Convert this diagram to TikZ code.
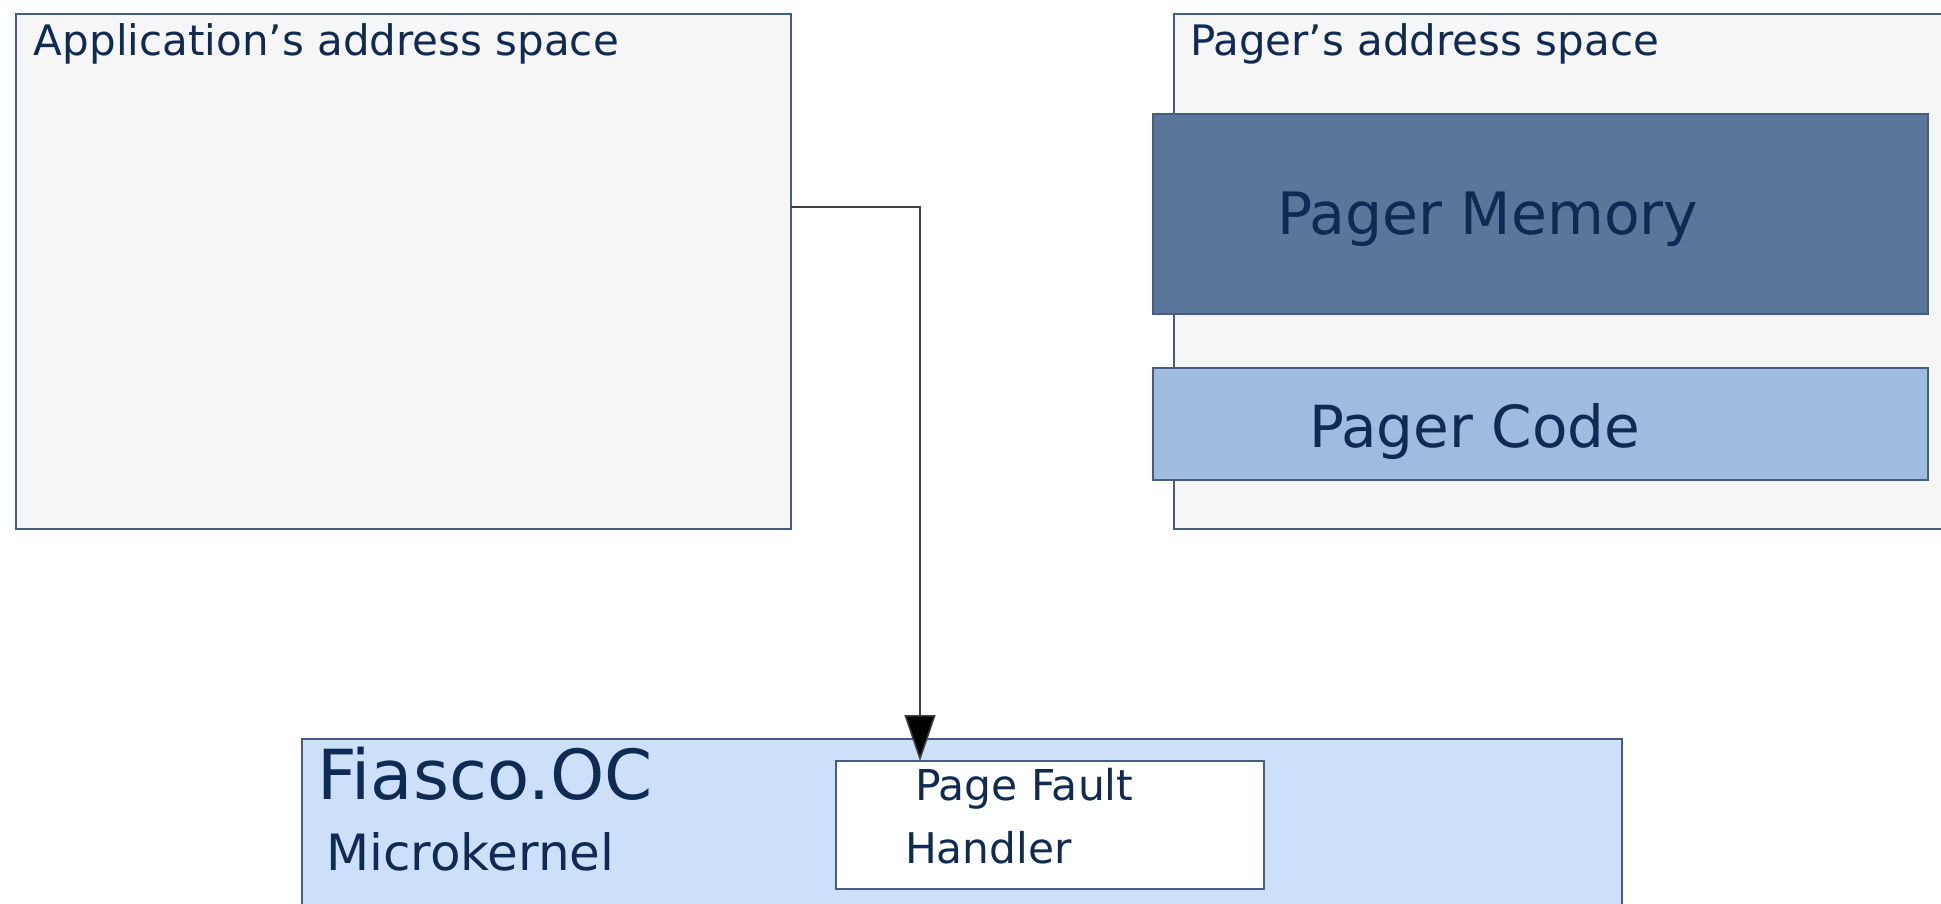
\documentclass[tikz,border=0pt]{standalone}
\usepackage{fontspec}
\setmainfont{DejaVu Sans}
\usetikzlibrary{arrows.meta}
\definecolor{txt}{RGB}{15,43,83}
\definecolor{edge}{RGB}{70,92,128}
\definecolor{appfill}{RGB}{246,246,246}
\definecolor{memfill}{RGB}{90,118,154}
\definecolor{codefill}{RGB}{157,188,224}
\definecolor{kernfill}{RGB}{204,224,250}
\begin{document}
\begin{tikzpicture}[x=1pt,y=-1pt,
  box/.style={draw=edge, line width=1.2pt, inner sep=0pt, outer sep=0pt, anchor=north west},
  lbl/.style={anchor=base west, inner sep=0pt, outer sep=0pt, text=txt},
  conn/.style={line width=1.5pt, draw=black!75, -{Triangle[length=46pt,width=31pt,fill=black]}}]
\useasboundingbox (0,0) rectangle (1941,903);
\clip (0,0) rectangle (1941,903);
% boxes
\node[box, fill=appfill, minimum width=775pt, minimum height=515pt] (app) at (16,14) {};
\node[box, fill=appfill, minimum width=800pt, minimum height=515pt] (pas) at (1174,14) {};
\node[box, fill=memfill, minimum width=775pt, minimum height=200pt] (mem) at (1153,114) {};
\node[box, fill=codefill, minimum width=775pt, minimum height=112pt] (code) at (1153,368) {};
\node[box, fill=kernfill, minimum width=1320pt, minimum height=190pt] (kern) at (302,739) {};
\node[box, fill=white, minimum width=428pt, minimum height=128pt] (pfh) at (836,761) {};
% labels
\node[lbl, font=\fontsize{42}{50}\selectfont] (tapp) at (34,55) {Application’s address space};
\node[lbl, font=\fontsize{42}{50}\selectfont] (tpas) at (1190,55) {Pager’s address space};
\node[lbl, font=\fontsize{58.4}{70}\selectfont] (tmem) at (1277,234) {Pager Memory};
\node[lbl, font=\fontsize{58}{70}\selectfont] (tcode) at (1309,447) {Pager Code};
\node[lbl, font=\fontsize{69}{82}\selectfont] (tfia) at (317,799) {Fiasco.OC};
\node[lbl, font=\fontsize{50}{60}\selectfont] (tmic) at (326,870) {Microkernel};
\node[lbl, font=\fontsize{42.5}{51}\selectfont] (tpf) at (915,800) {Page Fault};
\node[lbl, font=\fontsize{42.3}{51}\selectfont] (thd) at (905,863) {Handler};
% connector
\draw[conn] ([yshift=-193pt]app.north east) -| ([xshift=84pt]pfh.north west);
\end{tikzpicture}
\end{document}
